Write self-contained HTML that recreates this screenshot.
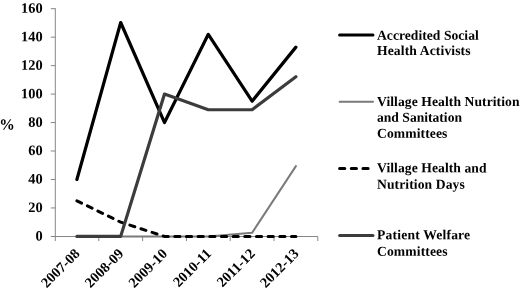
<!DOCTYPE html>
<html><head><meta charset="utf-8"><style>
html,body{margin:0;padding:0;background:#fff;}
svg{display:block;}
text{font-family:"Liberation Serif",serif;font-weight:bold;font-size:13.6px;fill:#000;}
text.a{font-size:14.4px;}
text.p{font-size:15.5px;}
</style></head><body>
<div style="width:520px;height:289px;will-change:transform;background:#fff">
<svg width="520" height="289" viewBox="0 0 520 289">
<line x1="55.3" y1="8.20" x2="55.3" y2="241.0" stroke="#868686" stroke-width="1"/>
<line x1="50.8" y1="236.5" x2="317.80" y2="236.5" stroke="#868686" stroke-width="1"/>
<text class="a" text-anchor="end" transform="translate(42.60,240.50) rotate(0.05)">0</text>
<line x1="50.8" y1="207.94" x2="55.3" y2="207.94" stroke="#868686" stroke-width="1"/>
<text class="a" text-anchor="end" transform="translate(42.60,212.04) rotate(0.05)">20</text>
<line x1="50.8" y1="179.48" x2="55.3" y2="179.48" stroke="#868686" stroke-width="1"/>
<text class="a" text-anchor="end" transform="translate(42.60,183.58) rotate(0.05)">40</text>
<line x1="50.8" y1="151.01" x2="55.3" y2="151.01" stroke="#868686" stroke-width="1"/>
<text class="a" text-anchor="end" transform="translate(42.60,155.11) rotate(0.05)">60</text>
<line x1="50.8" y1="122.55" x2="55.3" y2="122.55" stroke="#868686" stroke-width="1"/>
<text class="a" text-anchor="end" transform="translate(42.60,126.65) rotate(0.05)">80</text>
<line x1="50.8" y1="94.09" x2="55.3" y2="94.09" stroke="#868686" stroke-width="1"/>
<text class="a" text-anchor="end" transform="translate(42.60,98.19) rotate(0.05)">100</text>
<line x1="50.8" y1="65.63" x2="55.3" y2="65.63" stroke="#868686" stroke-width="1"/>
<text class="a" text-anchor="end" transform="translate(42.60,69.73) rotate(0.05)">120</text>
<line x1="50.8" y1="37.17" x2="55.3" y2="37.17" stroke="#868686" stroke-width="1"/>
<text class="a" text-anchor="end" transform="translate(42.60,41.27) rotate(0.05)">140</text>
<line x1="50.8" y1="8.70" x2="55.3" y2="8.70" stroke="#868686" stroke-width="1"/>
<text class="a" text-anchor="end" transform="translate(42.60,12.80) rotate(0.05)">160</text>
<line x1="98.8" y1="236.5" x2="98.8" y2="241.0" stroke="#868686" stroke-width="1"/>
<line x1="142.6" y1="236.5" x2="142.6" y2="241.0" stroke="#868686" stroke-width="1"/>
<line x1="186.4" y1="236.5" x2="186.4" y2="241.0" stroke="#868686" stroke-width="1"/>
<line x1="230.2" y1="236.5" x2="230.2" y2="241.0" stroke="#868686" stroke-width="1"/>
<line x1="274.0" y1="236.5" x2="274.0" y2="241.0" stroke="#868686" stroke-width="1"/>
<line x1="317.8" y1="236.5" x2="317.8" y2="241.0" stroke="#868686" stroke-width="1"/>
<text class="a" text-anchor="end" transform="translate(80.60,254.50) rotate(-45)">2007-08</text>
<text class="a" text-anchor="end" transform="translate(124.40,254.50) rotate(-45)">2008-09</text>
<text class="a" text-anchor="end" transform="translate(168.20,254.50) rotate(-45)">2009-10</text>
<text class="a" text-anchor="end" transform="translate(212.00,254.50) rotate(-45)">2010-11</text>
<text class="a" text-anchor="end" transform="translate(255.80,254.50) rotate(-45)">2011-12</text>
<text class="a" text-anchor="end" transform="translate(299.60,254.50) rotate(-45)">2012-13</text>
<text class="p" transform="translate(-0.70,129.40) rotate(0.05)">%</text>
<polyline points="76.90,179.48 120.70,22.51 164.50,122.55 208.30,34.32 252.10,101.21 295.90,47.13" fill="none" stroke="#000" stroke-width="3.2" stroke-linejoin="round" stroke-linecap="round"/>
<polyline points="76.90,236.40 120.70,236.40 164.50,236.40 208.30,236.40 252.10,232.84 295.90,166.10" fill="none" stroke="#7a7a7a" stroke-width="2" stroke-linejoin="round" stroke-linecap="round"/>
<polyline points="76.90,200.82 120.70,222.17 164.50,236.40 208.30,236.40 252.10,236.40 295.90,236.40" fill="none" stroke="#000" stroke-width="3" stroke-dasharray="5.2,6.47" stroke-linejoin="round" stroke-linecap="round"/>
<polyline points="76.90,236.40 120.70,236.40 164.50,94.09 208.30,109.74 252.10,109.74 295.90,76.73" fill="none" stroke="#3c3c3c" stroke-width="3.2" stroke-linejoin="round" stroke-linecap="round"/>
<line x1="339.6" y1="35.0" x2="373.0" y2="35.0" stroke="#000" stroke-width="3" stroke-linecap="round"/>
<text letter-spacing="0.030" transform="translate(377.00,39.70) rotate(0.05)">Accredited Social</text>
<text letter-spacing="0.120" transform="translate(377.00,55.00) rotate(0.05)">Health Activists</text>
<line x1="339.6" y1="101.8" x2="373.0" y2="101.8" stroke="#7a7a7a" stroke-width="2" stroke-linecap="round"/>
<text letter-spacing="0.078" transform="translate(377.00,106.00) rotate(0.05)">Village Health Nutrition</text>
<text transform="translate(377.00,121.80) rotate(0.05)">and Sanitation</text>
<text letter-spacing="0.100" transform="translate(377.00,137.80) rotate(0.05)">Committees</text>
<line x1="339.6" y1="168.4" x2="368.6" y2="168.4" stroke="#000" stroke-width="3" stroke-linecap="round" stroke-dasharray="5.2,6.47"/>
<text letter-spacing="0.076" transform="translate(377.00,172.30) rotate(0.05)">Village Health and</text>
<text letter-spacing="0.100" transform="translate(377.00,188.70) rotate(0.05)">Nutrition Days</text>
<line x1="339.6" y1="235.4" x2="373.0" y2="235.4" stroke="#3c3c3c" stroke-width="3" stroke-linecap="round"/>
<text letter-spacing="0.190" transform="translate(377.00,239.20) rotate(0.05)">Patient Welfare</text>
<text letter-spacing="0.120" transform="translate(377.00,255.80) rotate(0.05)">Committees</text>
</svg>
</div>
</body></html>
